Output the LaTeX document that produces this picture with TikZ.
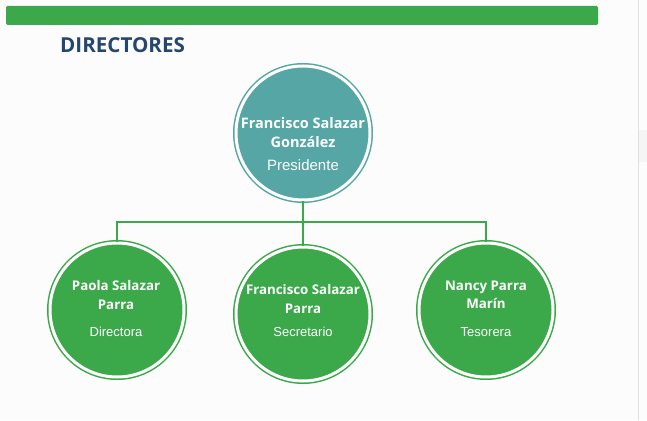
\documentclass[tikz,border=0pt]{standalone}
\usepackage{fontspec}
\setmainfont{Liberation Sans}
\newfontfamily\namefont{Open Sans}
\usetikzlibrary{calc}
\definecolor{gr}{HTML}{3BA84A}
\definecolor{tl}{HTML}{56A6A5}
\definecolor{navy}{HTML}{24466F}
\definecolor{bg}{HTML}{FCFCFC}
\tikzset{
  person/.style={circle, fill=#1, draw=#1, double=white, line width=1.5pt, double distance=3pt, minimum size=134pt, inner sep=0pt},
  nm/.style={text=white, font=\namefont\bfseries\fontsize{13.3}{18.5}\selectfont, align=center, inner sep=0pt},
  bignm/.style={text=white, font=\namefont\bfseries\fontsize{14.5}{19.5}\selectfont, align=center, inner sep=0pt},
  role/.style={text=white, font=\fontsize{13}{14}\selectfont, inner sep=0pt},
  bigrole/.style={text=white, font=\fontsize{15}{16}\selectfont, inner sep=0pt},
  conn/.style={draw=gr, line width=1.8pt}
}
\begin{document}
\begin{tikzpicture}[x=1pt,y=-1pt]
\fill[bg] (0,0) rectangle (647,420);
\useasboundingbox (0,0) rectangle (647,420);
\draw[black!12, line width=1pt] (638,0) -- (638,420);
\fill[black!4] (639,130) rectangle (647,162);
\fill[gr, rounded corners=1.5pt] (6,6) rectangle (598,25);
\node[anchor=base west, inner sep=0pt, text=navy, font=\namefont\bfseries\fontsize{20.6}{22}\selectfont] (title) at (60,52.5) {DIRECTORES};
% circles
\node[person=tl] (top) at (303,133) {};
\node[person=gr] (left) at (117,310) {};
\node[person=gr] (mid) at (303,314) {};
\node[person=gr] (right) at (486,310) {};
% connectors
\coordinate (j) at (303,222);
\draw[conn] (top.south) -- (j);
\draw[conn] (left.north) |- (j) -| (right.north);
\draw[conn] (j) -- (mid.north);
% texts
\node[bignm] (topname) at (303,132.5) {Francisco Salazar\\González};
\node[bigrole] (toprole) at (303,165) {Presidente};
\node[nm] (leftname) at (116,295) {Paola Salazar\\Parra};
\node[role] (leftrole) at (116,332) {Directora};
\node[nm] (midname) at (303,299) {Francisco Salazar\\Parra};
\node[role] (midrole) at (303,332) {Secretario};
\node[nm] (rightname) at (486,295) {Nancy Parra\\Marín};
\node[role] (rightrole) at (486,332) {Tesorera};
\end{tikzpicture}
\end{document}
